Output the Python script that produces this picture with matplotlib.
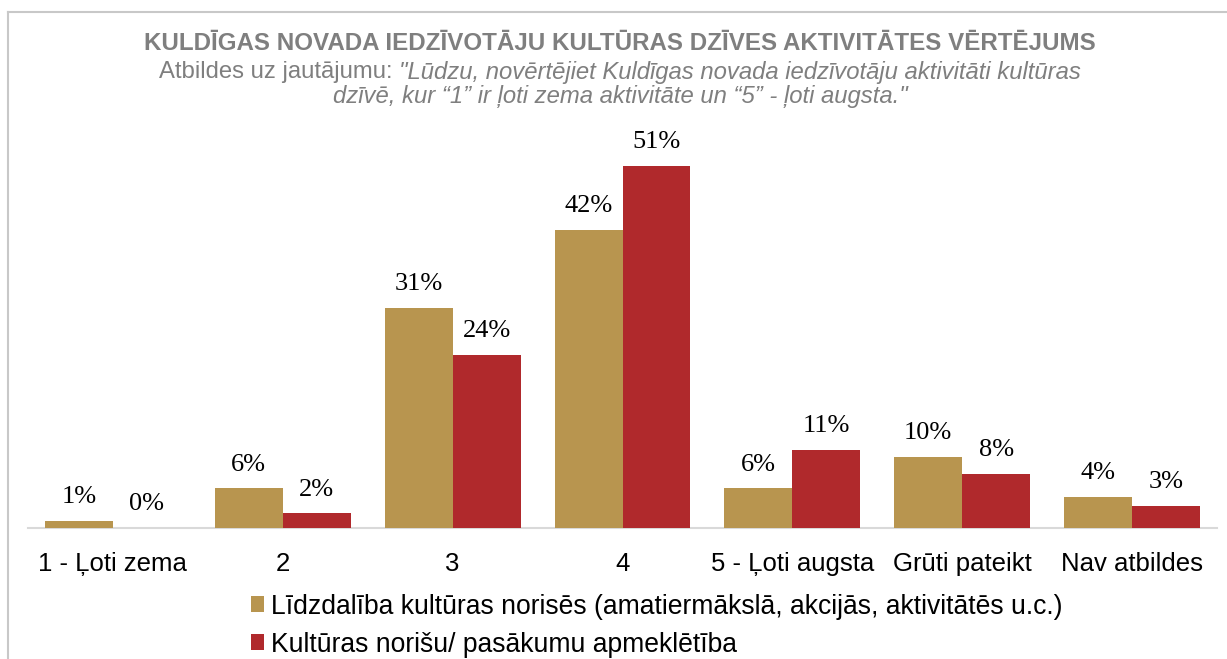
import numpy as np
import matplotlib.pyplot as plt

# dati
categories = ['1 - Ļoti zema', '2', '3', '4', '5 - Ļoti augsta', 'Grūti pateikt', 'Nav atbildes']
series_names = ['Līdzdalība kultūras norisēs (amatiermākslā, akcijās, aktivitātēs u.c.)',
                'Kultūras norišu/ pasākumu apmeklētība']
lidzdaliba = [1.0, 5.6, 31.0, 42.0, 5.6, 10.0, 4.4]
apmekletiba = [0.0, 2.1, 24.4, 51.0, 11.0, 7.6, 3.1]
colors = ['#B8954F', '#B0292C']

title = 'KULDĪGAS NOVADA IEDZĪVOTĀJU KULTŪRAS DZĪVES AKTIVITĀTES VĒRTĒJUMS'
sub_plain = 'Atbildes uz jautājumu: '
sub_italic1 = '"Lūdzu, novērtējiet Kuldīgas novada iedzīvotāju aktivitāti kultūras'
sub_italic2 = 'dzīvē, kur “1” ir ļoti zema aktivitāte un “5” - ļoti augsta."'

W, H = 1227, 659
fig = plt.figure(figsize=(W / 100, H / 100), dpi=100)
ax = fig.add_axes([28 / W, (H - 528) / H, (1217 - 28) / W, (528 - 130) / H])

x = np.arange(len(categories))
w = 0.4
b1 = ax.bar(x - w / 2, lidzdaliba, w, color=colors[0], label=series_names[0], zorder=3)
b2 = ax.bar(x + w / 2, apmekletiba, w, color=colors[1], label=series_names[1], zorder=3)

for bars, vals in ((b1, lidzdaliba), (b2, apmekletiba)):
    for r, v in zip(bars, vals):
        ax.annotate(f'{v:.0f}%', (r.get_x() + r.get_width() / 2, v),
                    xytext=(0, 9), textcoords='offset points', ha='center', va='bottom',
                    family='Liberation Serif', fontsize=19, color='black')

ax.set_xlim(-0.5, len(categories) - 0.5)
ax.set_ylim(0, 56)
ax.set_yticks([])
for s in ['top', 'right', 'left']:
    ax.spines[s].set_visible(False)
ax.spines['bottom'].set_color('#D9D9D9')
ax.spines['bottom'].set_linewidth(1.5)
ax.set_xticks(x)
ax.set_xticklabels(categories, family='Liberation Sans', fontsize=18.5)
ax.tick_params(axis='x', length=0, pad=17)

# virsraksts
cx = 620
fig.text(cx / W, 1 - 43 / H, title, ha='center', va='center', family='Liberation Sans',
         fontsize=17.4, fontweight='bold', color='#7F7F7F')

# apakšvirsraksts ar normālu + slīprakstu
r = fig.canvas.get_renderer()
sub_fs = 17.2
t1 = fig.text(0, 1 - 72 / H, sub_plain, ha='left', va='center', family='Liberation Sans',
              fontsize=sub_fs, color='#7F7F7F')
t2 = fig.text(0, 1 - 72 / H, sub_italic1, ha='left', va='center', family='Liberation Sans',
              fontsize=sub_fs, style='italic', color='#7F7F7F')
w1 = t1.get_window_extent(r).width
w2 = t2.get_window_extent(r).width
x0 = cx - (w1 + w2) / 2
t1.set_x(x0 / W)
t2.set_x((x0 + w1) / W)
fig.text(cx / W, 1 - 97 / H, sub_italic2, ha='center', va='center', family='Liberation Sans',
         fontsize=sub_fs, style='italic', color='#7F7F7F')

# leģenda
fig.legend(loc='upper left', bbox_to_anchor=(240 / W, 1 - 583 / H), ncol=1, frameon=False,
           prop={'family': 'Liberation Sans', 'size': 19.1}, handlelength=0.52, handleheight=0.52,
           handletextpad=0.26, labelspacing=0.45, borderaxespad=0)

# rāmis
fig.add_artist(plt.Line2D([8 / W, 8 / W], [0, 1 - 12 / H], transform=fig.transFigure,
                          color='#C8C8C8', lw=1.5))
fig.add_artist(plt.Line2D([8 / W, 1], [1 - 12 / H, 1 - 12 / H], transform=fig.transFigure,
                          color='#C8C8C8', lw=1.5))

fig.savefig('out.png', dpi=100)
